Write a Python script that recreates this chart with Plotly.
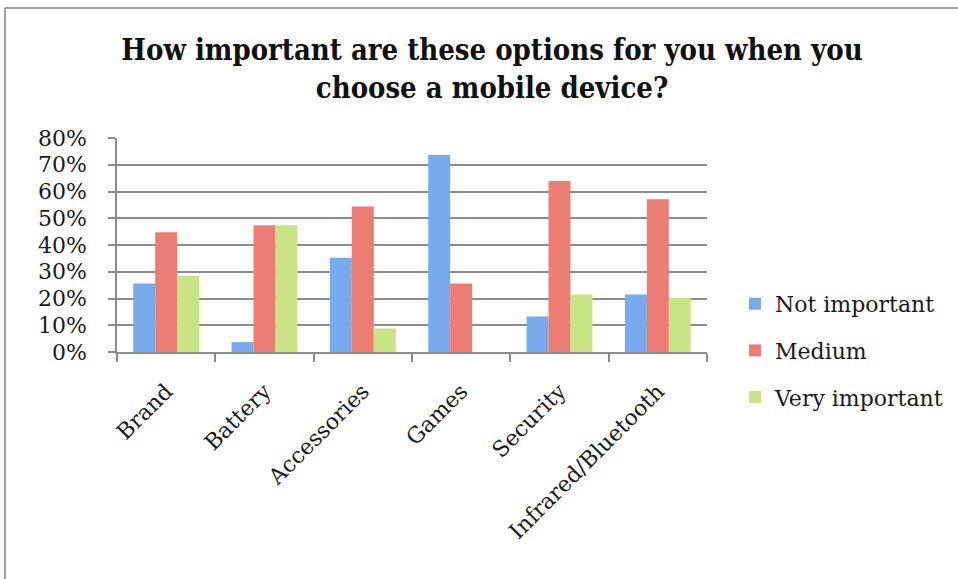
import plotly.graph_objects as go

categories = ["Brand", "Battery", "Accessories", "Games", "Security", "Infrared/Bluetooth"]
not_important = [0.256, 0.037, 0.352, 0.736, 0.133, 0.215]
medium = [0.448, 0.474, 0.544, 0.256, 0.639, 0.571]
very_important = [0.284, 0.474, 0.088, 0.0, 0.215, 0.202]
y_ticks = [0, 0.1, 0.2, 0.3, 0.4, 0.5, 0.6, 0.7, 0.8]

W, H = 958, 579
L, R, T, B = 117, 251, 138, 227

serif = "DejaVu Serif, Liberation Serif, serif"

series = [
    ("Not important", not_important, "#78aaee"),
    ("Medium", medium, "#eb7d74"),
    ("Very important", very_important, "#c9e485"),
]

fig = go.Figure()
for i, (name, vals, col) in enumerate(series):
    fig.add_trace(go.Bar(
        x=categories, y=vals, name=name, legendgroup=str(i),
        marker=dict(color=col, line=dict(width=0)),
    ))

pw = W - L - R
ph = H - T - B

def px_x(x):
    return (x - L) / pw

def px_y(y):
    return (H - B - y) / ph

fig.update_layout(
    width=W, height=H,
    margin=dict(l=L, r=R, t=T, b=B, autoexpand=False),
    paper_bgcolor="white", plot_bgcolor="white",
    barmode="group", bargap=0.33, bargroupgap=0,
    font=dict(family=serif, size=22, color="#1a1a1a"),
    title=dict(
        text="How important are these options for you when you<br>choose a mobile device?",
        x=492 / W, xanchor="center", xref="container",
        y=1 - 60 / H, yanchor="top", yref="container",
        font=dict(family="DejaVu Serif Condensed, DejaVu Serif, serif", size=29, color="#111", weight="bold"),
    ),
    legend=dict(
        x=px_x(735), xanchor="left", y=px_y(283), yanchor="top",
        font=dict(family=serif, size=22, color="#1a1a1a"),
        tracegroupgap=15, traceorder="grouped",
        itemwidth=30,
        bgcolor="rgba(0,0,0,0)",
    ),
    xaxis=dict(
        type="category",
        automargin=False,
        tickangle=-45,
        tickson="boundaries",
        ticks="outside", ticklen=8, tickcolor="#8c8c8c", tickwidth=1.5,
        showline=True, linecolor="#8c8c8c", linewidth=1.5,
        showgrid=False,
        ticklabelstandoff=16,
        tickfont=dict(family=serif, size=22, color="#1a1a1a"),
    ),
    yaxis=dict(
        range=[0, 0.8],
        automargin=False,
        tickvals=y_ticks, tickformat=".0%",
        ticks="outside", ticklen=7, tickcolor="#8c8c8c", tickwidth=1.5,
        showline=True, linecolor="#8c8c8c", linewidth=1.5,
        showgrid=True, gridcolor="#8c8c8c", gridwidth=1.5,
        zeroline=False,
        ticklabelstandoff=17,
        tickfont=dict(family=serif, size=22, color="#1a1a1a"),
    ),
    shapes=[
        dict(type="line", xref="paper", yref="paper",
             x0=px_x(5), x1=px_x(W + 5), y0=px_y(8), y1=px_y(8),
             line=dict(color="#a0a0a0", width=2)),
        dict(type="line", xref="paper", yref="paper",
             x0=px_x(5), x1=px_x(5), y0=px_y(8), y1=px_y(H + 5),
             line=dict(color="#a0a0a0", width=2)),
    ],
)

fig.write_html("out.html")
